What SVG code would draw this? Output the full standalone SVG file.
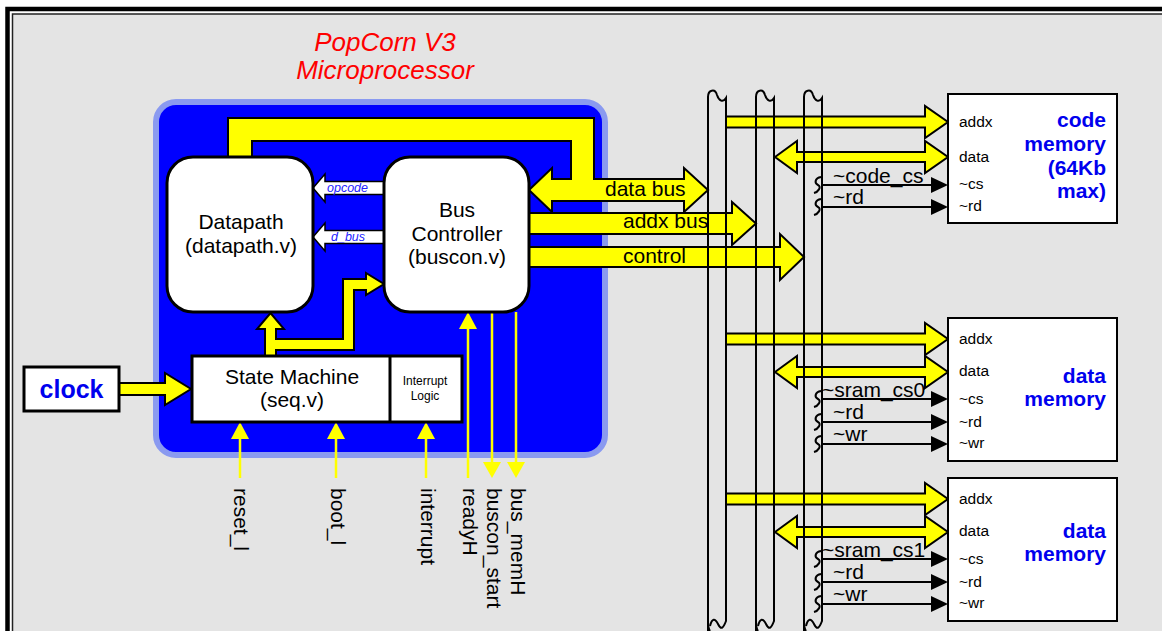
<svg xmlns="http://www.w3.org/2000/svg" width="1162" height="631" viewBox="0 0 1162 631">
<style>
text{font-family:"Liberation Sans",Arial,Helvetica,sans-serif;fill:#000}
.y{fill:#ffff00;stroke:#000;stroke-width:2;stroke-linejoin:miter}
.ys{fill:#ffff00;stroke:none}
.yl{stroke:#ffff00;stroke-width:2.5;fill:none}
.box{fill:#fff;stroke:#000;stroke-width:3}
.mem{fill:#fff;stroke:#000;stroke-width:2}
.rail{fill:none;stroke:#000;stroke-width:2}
.sl{stroke:#000;stroke-width:2;fill:none}
.f21{font-size:21px}
.f15{font-size:15.5px}
.blue{fill:#0000ee;font-weight:bold;font-size:21px}
.sm{font-size:12.5px;font-style:italic;fill:#2222ff}
.wa{fill:#fff;stroke:#000;stroke-width:1.5}
.ttl{font-size:26px;font-style:italic;fill:#ff0000}
</style>
<defs>
<polygon id="addxArr" class="y" points="726,-5.5 925,-5.5 925,-16 948,0 925,16 925,5.5 726,5.5"/>
<polygon id="dataArr" class="y" points="775,0 797,-16 797,-5 925,-5 925,-16 948,0 925,16 925,5 797,5 797,16"/>
<g id="sig">
<path class="sl" d="M821,-8 C815,-7 814,-2 818,0 C822,2 818,7 814,8" stroke-width="1.5"/>
<path class="sl" d="M822,0 H932"/>
<polygon points="931,-8 948,0 931,8" fill="#000"/>
</g>
</defs>
<rect x="0" y="0" width="1162" height="631" fill="#fff"/>
<rect x="7.5" y="9" width="1200" height="700" fill="none" stroke="#000" stroke-width="4.5"/>
<rect x="12.5" y="14" width="1200" height="700" fill="#e4e4e4" stroke="#222" stroke-width="1.5"/>

<g id="title">
<text class="ttl" x="385" y="51" text-anchor="middle">PopCorn V3</text>
<text class="ttl" x="385" y="79" text-anchor="middle">Microprocessor</text>
</g>

<g id="cpu">
<rect x="156" y="102" width="449" height="353" rx="20" fill="#0000ff" stroke="#8a9af0" stroke-width="6"/>
</g>

<g id="connectors">
<polygon class="y" points="228,160 228,118 594,118 594,179 684,179 684,168 708,190 684,212 684,201 552,201 552,212 529,190 552,168 552,179 571,179 571,141 252,141 252,160"/>
<polygon class="y" points="529,213 732,213 732,202 756,223.5 732,245 732,234 529,234"/>
<polygon class="y" points="529,247 780,247 780,234 804,257 780,280 780,267 529,267"/>
<polygon class="y" points="265,357 265,329 257,329 270.5,313 284,329 276,329 276,339 343,339 343,279 366,279 366,273 384,284 366,295 366,290 354,290 354,350 276,350 276,357"/>
<polygon class="y" points="119,383 165,383 165,373 191,389 165,405 165,395 119,395"/>
<polygon class="wa" points="313,188 325,174 325,181.5 385,181.5 385,194.5 325,194.5 325,202"/>
<polygon class="wa" points="313,237 325,223 325,230.5 385,230.5 385,243.5 325,243.5 325,251"/>
<path class="yl" d="M240,439 V478 M336,439 V478 M426,439 V478 M468,328 V478 M492,312 V462 M516,312 V462"/>
<polygon class="ys" points="231,439 240,422 249,439"/>
<polygon class="ys" points="327,439 336,422 345,439"/>
<polygon class="ys" points="417,439 426,422 435,439"/>
<polygon class="ys" points="459,329 468,312 477,329"/>
<polygon class="ys" points="483,462 492,478 501,462"/>
<polygon class="ys" points="507,462 516,478 525,462"/>
<use href="#addxArr" y="122"/>
<use href="#dataArr" y="157"/>
<use href="#addxArr" y="339"/>
<use href="#dataArr" y="372"/>
<use href="#addxArr" y="499"/>
<use href="#dataArr" y="532"/>
<path class="rail" d="M708,640 V621 V97 C708,90 715,88 717,95 C719,101 723,103 726,98 V621 C723,629 721,630 718,624 C715,618 712,618 710,626"/>
<path class="rail" d="M756,640 V621 V97 C756,90 763,88 765,95 C767,101 771,103 774,98 V621 C771,629 769,630 766,624 C763,618 760,618 758,626"/>
<path class="rail" d="M804,640 V621 V97 C804,90 811,88 813,95 C815,101 819,103 822,98 V621 C819,629 817,630 814,624 C811,618 808,618 806,626"/>
<path class="rail" d="M708,621 C708,626 708,628 710,631 M756,621 C756,626 756,628 758,631 M804,621 C804,626 804,628 806,631"/>
<use href="#sig" y="185"/>
<use href="#sig" y="207"/>
<use href="#sig" y="399"/>
<use href="#sig" y="422"/>
<use href="#sig" y="444"/>
<use href="#sig" y="559"/>
<use href="#sig" y="582"/>
<use href="#sig" y="604"/>
</g>

<g id="bus_labels">
<text class="f21" x="605" y="196">data bus</text>
<text class="f21" x="623" y="228">addx bus</text>
<text class="f21" x="623" y="263">control</text>
<text class="sm" x="327" y="192">opcode</text>
<text class="sm" x="331" y="241">d_bus</text>
<text class="f21" x="833" y="183">~code_cs</text>
<text class="f21" x="833" y="204">~rd</text>
<text class="f21" x="822" y="397">~sram_cs0</text>
<text class="f21" x="833" y="419">~rd</text>
<text class="f21" x="833" y="441">~wr</text>
<text class="f21" x="822" y="557">~sram_cs1</text>
<text class="f21" x="833" y="579">~rd</text>
<text class="f21" x="833" y="601">~wr</text>
</g>

<g id="datapath">
<rect class="box" x="167" y="157" width="146" height="155" rx="26"/>
<text class="f21" x="241" y="229" text-anchor="middle">Datapath</text>
<text class="f21" x="241" y="253" text-anchor="middle">(datapath.v)</text>
</g>

<g id="buscon">
<rect class="box" x="384" y="157" width="145" height="155" rx="26"/>
<text class="f21" x="457" y="217" text-anchor="middle">Bus</text>
<text class="f21" x="457" y="241" text-anchor="middle">Controller</text>
<text class="f21" x="457" y="264" text-anchor="middle">(buscon.v)</text>
</g>

<g id="seq">
<rect class="box" x="192" y="356" width="270" height="66"/>
<line x1="390" y1="356" x2="390" y2="422" stroke="#000" stroke-width="3"/>
<text class="f21" x="292" y="384" text-anchor="middle">State Machine</text>
<text class="f21" x="292" y="407" text-anchor="middle">(seq.v)</text>
<text x="425" y="385" font-size="12" text-anchor="middle">Interrupt</text>
<text x="425" y="400" font-size="12" text-anchor="middle">Logic</text>
</g>

<g id="clock">
<rect x="24" y="367" width="95" height="44" fill="#fff" stroke="#000" stroke-width="3"/>
<text x="71.5" y="398" font-size="25" font-weight="bold" text-anchor="middle" style="fill:#0000ee">clock</text>
</g>

<g id="pins">
<text class="f21" transform="translate(234,488) rotate(90)">reset_l</text>
<text class="f21" transform="translate(330.5,488) rotate(90)">boot_l</text>
<text class="f21" transform="translate(420.5,488) rotate(90)">interrupt</text>
<text class="f21" transform="translate(462.5,488) rotate(90)">readyH</text>
<text class="f21" transform="translate(486.5,488) rotate(90)">buscon_start</text>
<text class="f21" transform="translate(510.5,488) rotate(90)">bus_memH</text>
</g>

<g id="code_memory">
<rect class="mem" x="948" y="94" width="169" height="129"/>
<text class="f15" x="959" y="127">addx</text>
<text class="f15" x="959" y="162">data</text>
<text class="f15" x="959" y="189">~cs</text>
<text class="f15" x="959" y="211">~rd</text>
<text class="blue" x="1106" y="127" text-anchor="end">code</text>
<text class="blue" x="1106" y="151" text-anchor="end">memory</text>
<text class="blue" x="1106" y="175" text-anchor="end">(64Kb</text>
<text class="blue" x="1106" y="198" text-anchor="end">max)</text>
</g>

<g id="data_memory0">
<rect class="mem" x="948" y="318" width="169" height="143"/>
<text class="f15" x="959" y="344">addx</text>
<text class="f15" x="959" y="376">data</text>
<text class="f15" x="959" y="404">~cs</text>
<text class="f15" x="959" y="427">~rd</text>
<text class="f15" x="959" y="448">~wr</text>
<text class="blue" x="1106" y="383" text-anchor="end">data</text>
<text class="blue" x="1106" y="406" text-anchor="end">memory</text>
</g>

<g id="data_memory1">
<rect class="mem" x="948" y="478" width="169" height="143"/>
<text class="f15" x="959" y="504">addx</text>
<text class="f15" x="959" y="536">data</text>
<text class="f15" x="959" y="564">~cs</text>
<text class="f15" x="959" y="587">~rd</text>
<text class="f15" x="959" y="608">~wr</text>
<text class="blue" x="1106" y="538" text-anchor="end">data</text>
<text class="blue" x="1106" y="561" text-anchor="end">memory</text>
</g>
</svg>
